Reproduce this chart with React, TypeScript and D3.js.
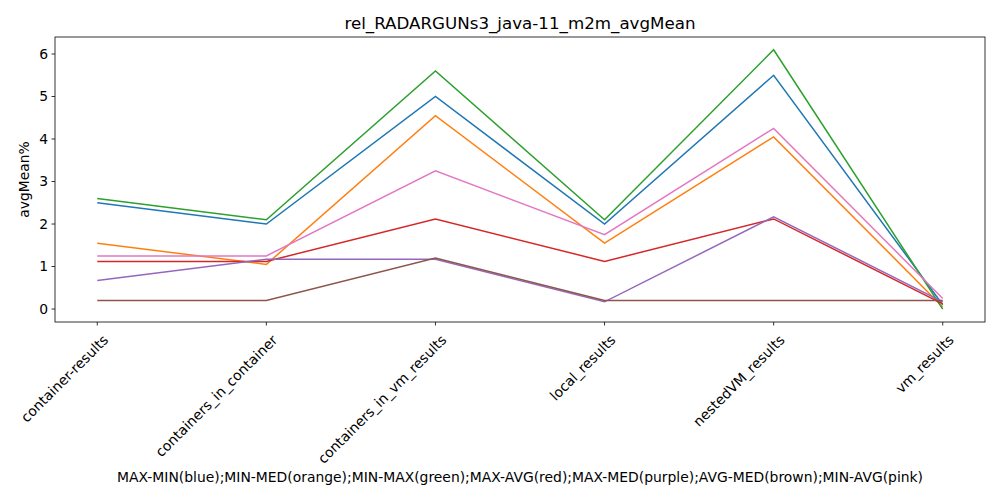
import React, { useEffect, useRef } from 'react';
import * as d3 from 'd3';

const categories = ['container-results', 'containers_in_container', 'containers_in_vm_results', 'local_results', 'nestedVM_results', 'vm_results'];
const seriesNames = ['MAX-MIN', 'MIN-MED', 'MIN-MAX', 'MAX-AVG', 'MAX-MED', 'AVG-MED', 'MIN-AVG'];
const seriesColors = ['#1f77b4', '#ff7f0e', '#2ca02c', '#d62728', '#9467bd', '#8c564b', '#e377c2'];
const seriesValues = [
  [2.5, 2.0, 5.0, 2.0, 5.5, 0.1],
  [1.55, 1.05, 4.55, 1.55, 4.05, 0.05],
  [2.6, 2.1, 5.6, 2.1, 6.1, 0.0],
  [1.12, 1.12, 2.12, 1.12, 2.12, 0.12],
  [0.67, 1.17, 1.17, 0.17, 2.17, 0.17],
  [0.2, 0.2, 1.2, 0.2, 0.2, 0.2],
  [1.25, 1.25, 3.25, 1.75, 4.25, 0.25],
];
const yTicks = [0, 1, 2, 3, 4, 5, 6];
const title = 'rel_RADARGUNs3_java-11_m2m_avgMean';
const xLabel = 'MAX-MIN(blue);MIN-MED(orange);MIN-MAX(green);MAX-AVG(red);MAX-MED(purple);AVG-MED(brown);MIN-AVG(pink)';

export default function App() {
  const ref = useRef<SVGSVGElement>(null);

  useEffect(() => {
    if (!ref.current) return;
    const svg = d3.select(ref.current);
    svg.selectAll('*').remove();
    const m = { left: 55, right: 985, top: 37, bottom: 322 };
    const font = 'DejaVu Sans, sans-serif';

    const x = d3.scaleLinear().domain([-0.25, categories.length - 0.75]).range([m.left, m.right]);
    const y = d3.scaleLinear().domain([-0.305, 6.4]).range([m.bottom, m.top]);

    svg.append('rect').attr('width', 1000).attr('height', 500).attr('fill', 'white');

    const line = d3.line<number>().x((_, i) => x(i)).y(d => y(d));
    seriesValues.forEach((vals, i) => {
      svg.append('path').datum(vals).attr('fill', 'none')
        .attr('stroke', seriesColors[i]).attr('stroke-width', 1.5).attr('d', line);
    });

    svg.append('rect').attr('x', m.left).attr('y', m.top)
      .attr('width', m.right - m.left).attr('height', m.bottom - m.top)
      .attr('fill', 'none').attr('stroke', 'black').attr('stroke-width', 0.8);

    yTicks.forEach(t => {
      svg.append('line').attr('x1', m.left - 3.5).attr('x2', m.left)
        .attr('y1', y(t)).attr('y2', y(t)).attr('stroke', 'black').attr('stroke-width', 0.8);
      svg.append('text').attr('x', m.left - 7).attr('y', y(t)).attr('dy', '0.35em')
        .attr('text-anchor', 'end').attr('font-family', font).attr('font-size', 13.9).text(t);
    });

    categories.forEach((c, i) => {
      svg.append('line').attr('x1', x(i)).attr('x2', x(i))
        .attr('y1', m.bottom).attr('y2', m.bottom + 3.5).attr('stroke', 'black').attr('stroke-width', 0.8);
      svg.append('text')
        .attr('transform', `translate(${x(i) + 5},${m.bottom + 12}) rotate(-45)`)
        .attr('text-anchor', 'end').attr('dy', '0.7em')
        .attr('font-family', font).attr('font-size', 13.9).text(c);
    });

    svg.append('text').attr('x', (m.left + m.right) / 2).attr('y', 29)
      .attr('text-anchor', 'middle').attr('font-family', font).attr('font-size', 16.7).text(title);

    svg.append('text').attr('x', (m.left + m.right) / 2).attr('y', 482)
      .attr('text-anchor', 'middle').attr('font-family', font).attr('font-size', 13.9).text(xLabel);

    svg.append('text').attr('transform', `translate(29,${(m.top + m.bottom) / 2}) rotate(-90)`)
      .attr('text-anchor', 'middle').attr('font-family', font).attr('font-size', 13.9).text('avgMean%');
  }, []);

  return <svg ref={ref} width={1000} height={500} style={{ position: 'absolute', left: 0, top: 0 }} />;
}
